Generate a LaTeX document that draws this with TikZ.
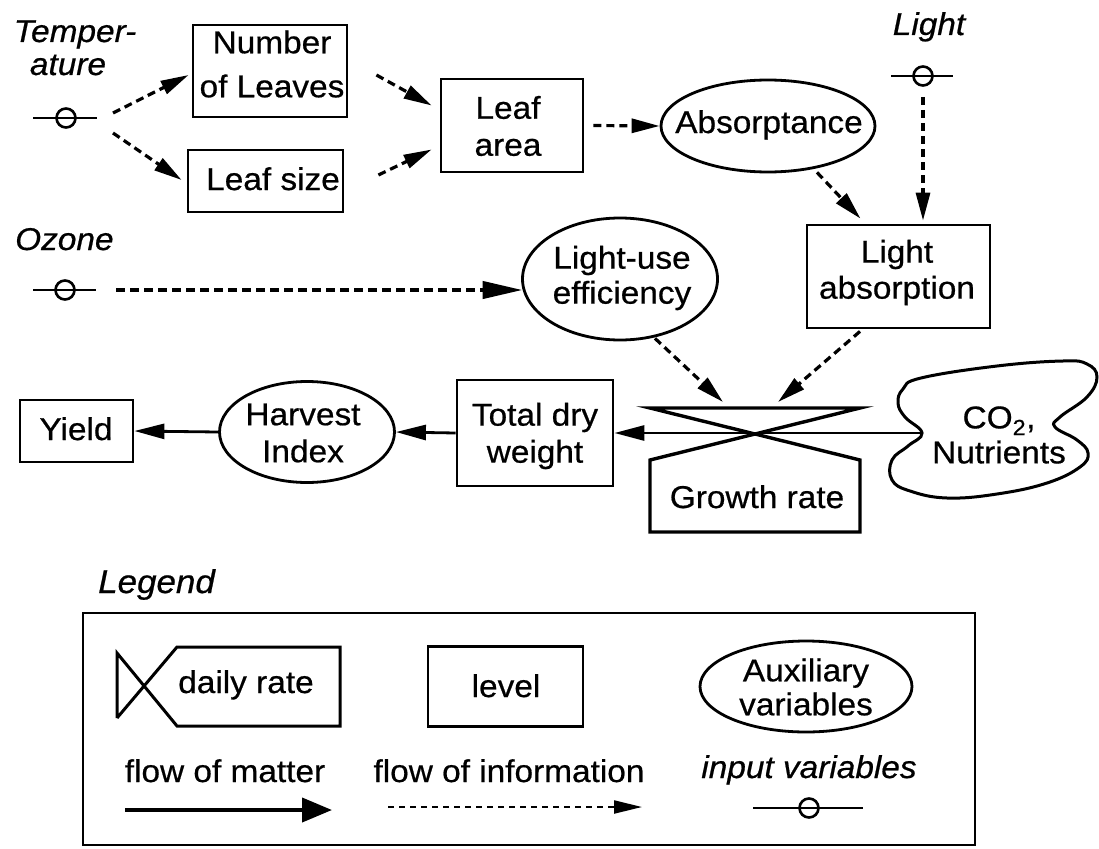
\documentclass[tikz,border=0pt]{standalone}
\usepackage{fontspec}
\setmainfont{Liberation Sans}[FakeStretch=1.06, FakeBold=0.6]
\usetikzlibrary{shapes.geometric,arrows.meta,calc}

\begin{document}
\begin{tikzpicture}[x=1pt,y=-1pt,
  lbl/.style={font=\fontsize{31.5}{37}\selectfont, inner sep=0pt, align=center},
  ital/.style={font=\fontsize{31.5}{37}\selectfont\itshape, inner sep=0pt},
  box/.style={draw, line width=2.8pt, rectangle, inner sep=0pt},
  aux/.style={draw, line width=2.8pt, ellipse, inner sep=0pt},
  info/.style={line width=3.2pt, dash pattern=on 8pt off 5pt,
    -{Triangle[length=28pt,width=14pt]}},
  strong info/.style={line width=4.2pt, dash pattern=on 9pt off 5pt,
    -{Triangle[length=40pt,width=17pt]}},
  matter/.style={line width=2.8pt, -{Triangle[length=30pt,width=15pt]}},
  insym/.style={draw, circle, line width=2.6pt, minimum size=19pt, inner sep=0pt},
  inline/.style={line width=2.6pt},
]
\fill[white] (0,0) rectangle (1099,848);
\useasboundingbox (0,0) rectangle (1099,848);

% ---------- input variables ----------
\node[ital, anchor=base] (tempT1) at (75,42) {Temper-};
\node[ital, anchor=base] (tempT2) at (68,75) {ature};
\node[insym] (tempIn) at (66,118) {};
\draw[inline] ($(tempIn)+(-33,0)$) -- ($(tempIn)+(31,0)$);

\node[ital, anchor=base] (lightT) at (929,35) {Light};
\node[insym] (lightIn) at (923,76) {};
\draw[inline] ($(lightIn)+(-32,0)$) -- ($(lightIn)+(30,0)$);

\node[ital, anchor=base west] (ozoneT) at (15,250) {Ozone};
\node[insym] (ozoneIn) at (65,290) {};
\draw[inline] ($(ozoneIn)+(-32,0)$) -- ($(ozoneIn)+(31,0)$);

% ---------- levels ----------
\node[box, minimum width=154pt, minimum height=92pt] (numleaves) at (270,71) {};
\node[lbl] (numleavesT) at (272,64) {Number\\[7pt]of Leaves};

\node[box, minimum width=155pt, minimum height=62pt] (leafsize) at (265.5,181) {};
\node[lbl, anchor=base] (leafsizeT) at (273,190) {Leaf size};

\node[box, minimum width=142pt, minimum height=93pt] (leafarea) at (512,125.5) {};
\node[lbl] (leafareaT) at (508,126) {Leaf\\area};

\node[box, minimum width=183pt, minimum height=103pt] (lightabs) at (898.5,276.5) {};
\node[lbl] (lightabsT) at (897,272.5) {Light\\[-1pt]absorption};

\node[box, minimum width=156pt, minimum height=106pt] (totaldry) at (535,433) {};
\node[lbl] (totaldryT) at (535,436) {Total dry\\weight};

\node[box, minimum width=113pt, minimum height=62pt] (yield) at (76.5,431) {};
\node[lbl, anchor=base] (yieldT) at (76,440) {Yield};

% ---------- auxiliary variables ----------
\node[aux, minimum width=214pt, minimum height=92pt] (absorp) at (768,126) {};
\node[lbl, anchor=base] (absorpT) at (769,133) {Absorptance};

\node[aux, minimum width=195pt, minimum height=122pt] (lue) at (620,279) {};
\node[lbl] (lueT) at (622,278) {Light-use\\[-2pt]efficiency};

\node[aux, minimum width=175pt, minimum height=101pt] (harvest) at (307,432) {};
\node[lbl] (harvestT) at (303,433) {Harvest\\Index};

% ---------- growth rate (valve) ----------
\coordinate (valve) at (755,433);
\coordinate (vTL) at (650,408);
\coordinate (vTR) at (860,408);
\coordinate (vBL) at (650,460);
\coordinate (vBR) at (860,460);
\coordinate (vFL) at (650,532);
\coordinate (vFR) at (860,532);
\draw[line width=3.4pt, line join=miter]
  (vTL) -- (vTR) -- (vBL) -- (vFL) -- (vFR) -- (vBR) -- cycle;
\node[lbl, anchor=base] (growthT) at (757,508) {Growth rate};

% ---------- source cloud ----------
\draw[line width=3pt] plot[smooth cycle, tension=0.7] coordinates {
  (922,433) (905,417) (898,403) (903,389) (921,378) (997,366) (1063,361)
  (1087,364) (1097,377) (1087,397) (1060,417) (1055,427) (1077,440)
  (1088,453) (1080,467) (1047,483) (997,494) (947,498) (910,491)
  (892,480) (892,460) (908,446)};
\coordinate (cloudIn) at (922,433);
\node[lbl] (cloudT) at (999,435) {CO\textsubscript{2},\\[-2pt]Nutrients};

% ---------- flows of information ----------
\draw[info] ($(tempIn)+(47,-5)$) -- ($(numleaves.west)+(-3,4)$);
\draw[info] ($(tempIn)+(47,15)$) -- ($(leafsize.west)+(-5,-1)$);
\draw[info] ($(numleaves.east)+(28,4)$) -- ($(leafarea.west)+(-8,-20)$);
\draw[info] ($(leafsize.east)+(34,-6)$) -- ($(leafarea.west)+(-8,24)$);
\draw[info] ($(leafarea.east)+(9,0)$) -- (absorp.west);
\draw[info] ($(absorp.south)+(49,-1)$) -- ($(lightabs.north)+(-38,-5)$);
\draw[info] ($(lightIn)+(0,21)$) -- ($(lightabs.north)+(24.5,-3)$);
\draw[strong info] ($(ozoneIn)+(51,0)$) -- ($(lue.west)+(1.5,11)$);
\draw[info] ($(lue.south)+(35,-3)$) -- ($(valve)+(-32,-31)$);
\draw[info] ($(lightabs.south)+(-38.5,2)$) -- ($(valve)+(23,-31)$);

% ---------- flows of matter ----------
\draw[matter] (cloudIn) -- (totaldry.east);
\draw[matter] (totaldry.west) -- (harvest.east);
\draw[matter] (harvest.west) -- (yield.east);

% ---------- legend ----------
\node[ital, anchor=base west, font=\fontsize{33}{37}\selectfont\itshape] (legendT) at (98,593) {Legend};
\node[draw, line width=2.6pt, rectangle, inner sep=0pt,
  minimum width=892pt, minimum height=232pt] (legendBox) at (529,729) {};

\coordinate (dA) at (117,653);
\coordinate (dB) at (117,718);
\coordinate (dC) at (177,647);
\coordinate (dD) at (340,647);
\coordinate (dE) at (340,726);
\coordinate (dF) at (177,726);
\draw[line width=3pt, line join=miter] (dB) -- (dA) -- (dF) -- (dE) -- (dD) -- (dC) -- (dB);
\node[lbl, anchor=base] (dailyT) at (246,693) {daily rate};

\node[box, minimum width=155pt, minimum height=80pt] (levelBox) at (505.5,686.5) {};
\node[lbl, anchor=base] (levelT) at (506,697) {level};

\node[aux, minimum width=212pt, minimum height=91pt] (auxBox) at (806,686.5) {};
\node[lbl] (auxT) at (806,687) {Auxiliary\\[-3pt]variables};

\node[lbl, anchor=base] (matterT) at (225,782) {flow of matter};
\node[lbl, anchor=base] (infoT) at (509,782) {flow of information};
\node[ital, anchor=base] (inputT) at (809,778) {input variables};

\coordinate (mA) at (125,810);
\coordinate (mB) at (332,810);
\draw[line width=4pt, -{Triangle[length=30pt,width=24pt]}] (mA) -- (mB);

\coordinate (iA) at (388,807);
\coordinate (iB) at (642,807);
\draw[line width=2.2pt, dash pattern=on 6pt off 5pt,
  -{Triangle[length=28pt,width=13pt]}] (iA) -- (iB);

\node[insym] (legIn) at (809,808) {};
\draw[inline] ($(legIn)+(-56,0)$) -- ($(legIn)+(54,0)$);
\end{tikzpicture}
\end{document}
